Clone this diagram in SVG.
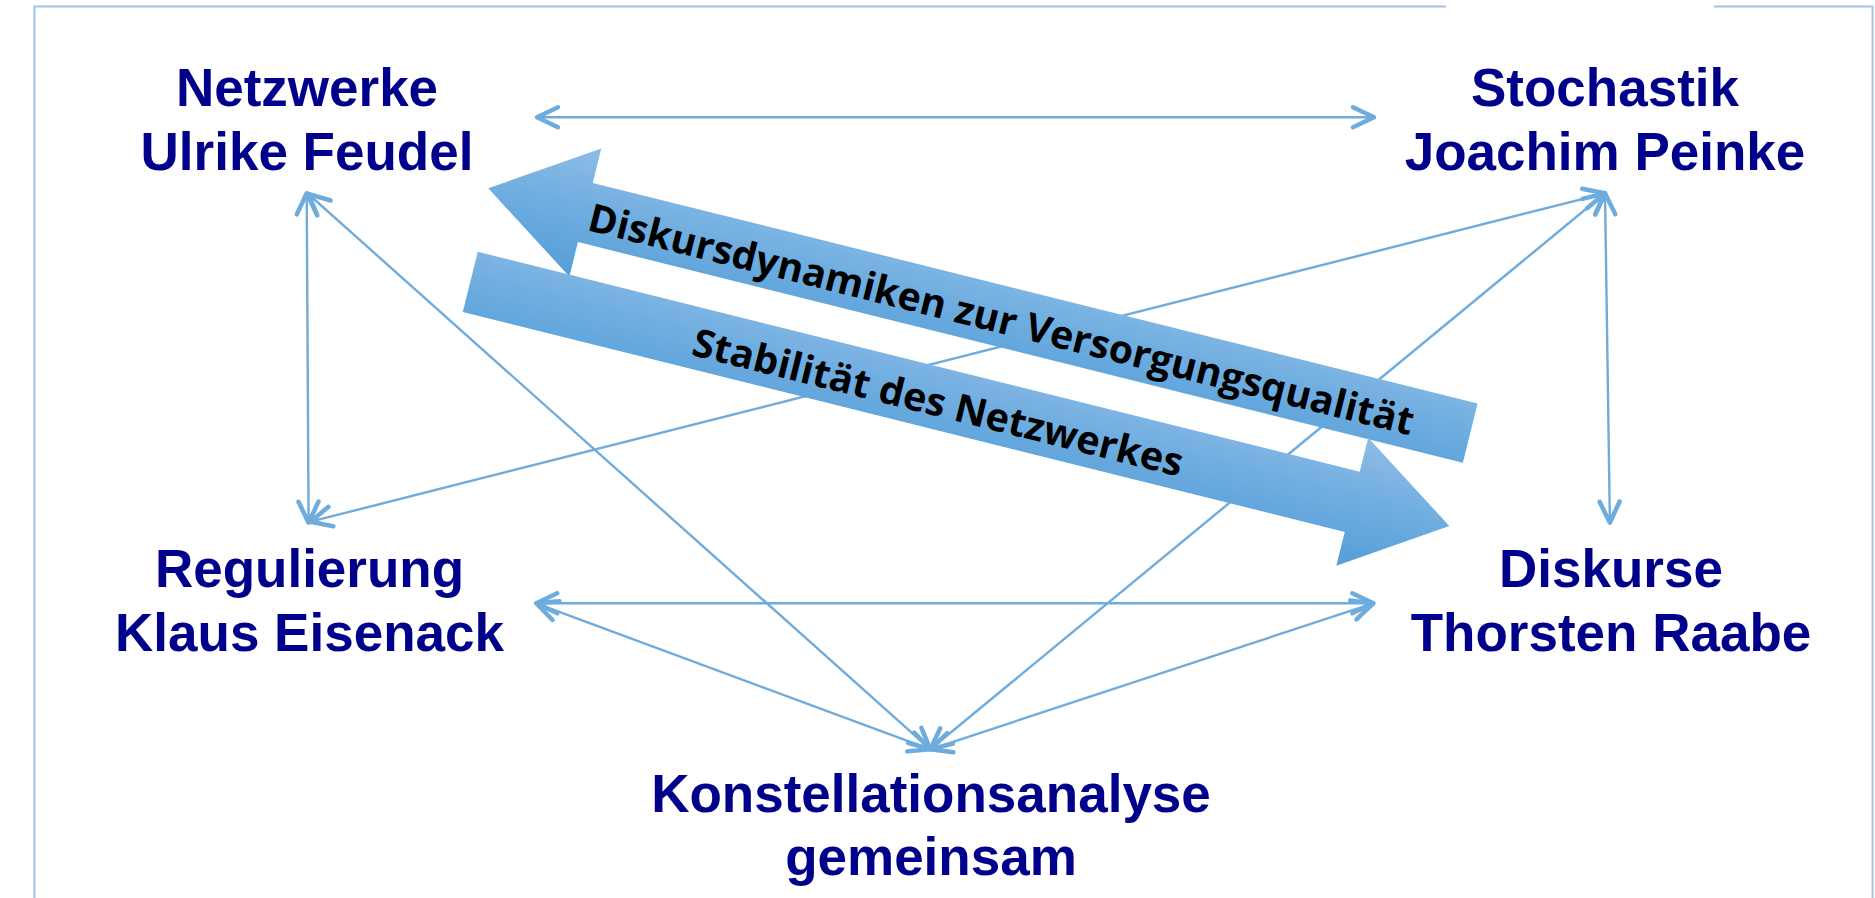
<svg xmlns="http://www.w3.org/2000/svg" width="1875" height="898" viewBox="0 0 1875 898">
  <style>
    .frame { fill: none; stroke: #9DC3E6; stroke-width: 2; }
    .conn { fill: none; stroke: #6FACDE; stroke-width: 2.4; marker-start: url(#chev); marker-end: url(#chev); }
    .node { font-family: "Liberation Sans", Arial, sans-serif; font-weight: bold; font-size: 53px; fill: #00008B; text-anchor: middle; }
    .band { fill: url(#bandGrad); }
    .bandText { font-family: "Open Sans", "Liberation Sans", sans-serif; font-weight: bold; font-size: 39px; fill: #000000; }
  </style>
  <defs>
    <marker id="chev" markerUnits="userSpaceOnUse" orient="auto-start-reverse" refX="0" refY="0" markerWidth="30" markerHeight="30" overflow="visible">
      <path d="M-21,-10 L0,0 L-21,10" fill="none" stroke="#6FACDE" stroke-width="4.5" stroke-linecap="round" stroke-linejoin="round"/>
    </marker>
    <linearGradient id="bandGrad" x1="0" y1="0" x2="0" y2="1">
      <stop offset="0" stop-color="#8FBCE6"/>
      <stop offset="0.5" stop-color="#6EADE0"/>
      <stop offset="1" stop-color="#559ED8"/>
    </linearGradient>
  </defs>

  <rect width="1875" height="898" fill="#FFFFFF"/>
  <path class="frame" d="M34.5,898 V6.5 H1446 M1714,6.5 H1872.5 V898"/>

  <g id="connectors">
    <line class="conn" x1="537" y1="117.3" x2="1374" y2="117.3"/>
    <line class="conn" x1="306.7" y1="193.3" x2="308.6" y2="522.7"/>
    <line class="conn" x1="308.3" y1="194" x2="930.4" y2="749.3"/>
    <line class="conn" x1="310.5" y1="521.7" x2="1605" y2="193.3"/>
    <line class="conn" x1="930.4" y1="749.3" x2="1605" y2="193.3"/>
    <line class="conn" x1="1605" y1="193.3" x2="1609.9" y2="522.7"/>
    <line class="conn" x1="536.3" y1="603.3" x2="1373.3" y2="603.3"/>
    <line class="conn" x1="536.3" y1="603.3" x2="930.4" y2="749.3"/>
    <line class="conn" x1="1373.3" y1="603.3" x2="930.4" y2="749.3"/>
  </g>

  <g id="banners">
    <g id="banner-diskursdynamiken" transform="translate(488.3,188.3) rotate(14)">
      <polygon class="band" points="0,0 100,-66 100,-30.5 1012,-30.5 1012,30.5 100,30.5 100,66"/>
      <text class="bandText" x="105" y="16.8" textLength="849" lengthAdjust="spacingAndGlyphs">Diskursdynamiken zur Versorgungsqualität</text>
    </g>
    <g id="banner-stabilitaet" transform="translate(1449.3,526) rotate(14)">
      <polygon class="band" points="0,0 -100,66 -100,31 -1009,31 -1009,-31 -100,-31 -100,-66"/>
      <text class="bandText" x="-778" y="17.5" textLength="504" lengthAdjust="spacingAndGlyphs">Stabilität des Netzwerkes</text>
    </g>
  </g>

  <g id="node-netzwerke">
    <text class="node" x="307" y="106">Netzwerke</text>
    <text class="node" x="307" y="170">Ulrike Feudel</text>
  </g>
  <g id="node-stochastik">
    <text class="node" x="1605" y="106">Stochastik</text>
    <text class="node" x="1605" y="170">Joachim Peinke</text>
  </g>
  <g id="node-regulierung">
    <text class="node" x="309.5" y="587">Regulierung</text>
    <text class="node" x="309.5" y="651">Klaus Eisenack</text>
  </g>
  <g id="node-diskurse">
    <text class="node" x="1611" y="587">Diskurse</text>
    <text class="node" x="1611" y="651">Thorsten Raabe</text>
  </g>
  <g id="node-konstellation">
    <text class="node" x="931" y="812">Konstellationsanalyse</text>
    <text class="node" x="931" y="875">gemeinsam</text>
  </g>
</svg>
